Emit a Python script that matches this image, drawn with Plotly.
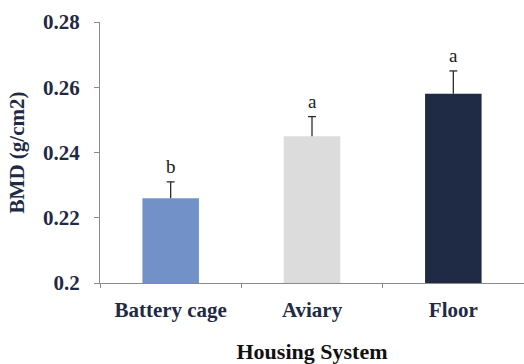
import plotly.graph_objects as go

# Bone mineral density by housing system
categories = ["Battery cage", "Aviary", "Floor"]
bmd_mean = [0.226, 0.245, 0.258]
bmd_se = [0.005, 0.006, 0.007]
letters = ["b", "a", "a"]
bar_colors = ["#7291c9", "#dcdcdc", "#1f2a44"]
y_ticks = [0.2, 0.22, 0.24, 0.26, 0.28]
y_tick_text = ["0.2", "0.22", "0.24", "0.26", "0.28"]

ink = "#1f2a44"
serif = "Liberation Serif, Times New Roman, serif"
whisker = "#2b2b35"

fig = go.Figure()
fig.add_trace(go.Bar(
    x=categories,
    y=bmd_mean,
    width=0.4,
    marker=dict(color=bar_colors, line=dict(width=0)),
))

# Upper-only error whiskers and significance letters
for i, (m, e, lab) in enumerate(zip(bmd_mean, bmd_se, letters)):
    fig.add_shape(type="line", xref="x", yref="y",
                  x0=i, x1=i, y0=m, y1=m + e,
                  line=dict(color=whisker, width=1.3))
    fig.add_shape(type="line", xref="x", yref="y",
                  x0=i - 0.028, x1=i + 0.028, y0=m + e, y1=m + e,
                  line=dict(color=whisker, width=1.3))
    fig.add_annotation(
        x=i, y=m + e, text=lab, showarrow=False,
        yanchor="bottom", yshift=3,
        font=dict(family=serif, size=19, color="#1a1a1a"),
    )

fig.update_layout(
    width=524, height=364,
    margin=dict(l=100, r=0, t=22, b=81),
    paper_bgcolor="white", plot_bgcolor="white",
    showlegend=False,
)
fig.update_xaxes(
    type="category",
    range=[-0.5, 2.5],
    showline=True, linecolor="#8a8a8a", linewidth=1.2,
    ticks="outside", tickson="boundaries", ticklen=4, tickcolor="#8a8a8a",
    ticklabelstandoff=8,
    showgrid=False, zeroline=False,
    tickfont=dict(family=serif, size=21, color=ink, weight="bold"),
    title=dict(text="Housing System", standoff=24,
               font=dict(family=serif, size=22, color="#111111", weight="bold")),
)
fig.update_yaxes(
    range=[0.2, 0.28],
    tickvals=y_ticks, ticktext=y_tick_text,
    showline=True, linecolor="#8a8a8a", linewidth=1.2,
    ticks="outside", ticklen=5, tickcolor="#8a8a8a",
    ticklabelstandoff=10,
    showgrid=False, zeroline=False,
    tickfont=dict(family=serif, size=21, color=ink, weight="bold"),
    title=dict(text="BMD (g/cm2)", standoff=12,
               font=dict(family=serif, size=21, color=ink, weight="bold")),
)

fig.write_html("out.html")
